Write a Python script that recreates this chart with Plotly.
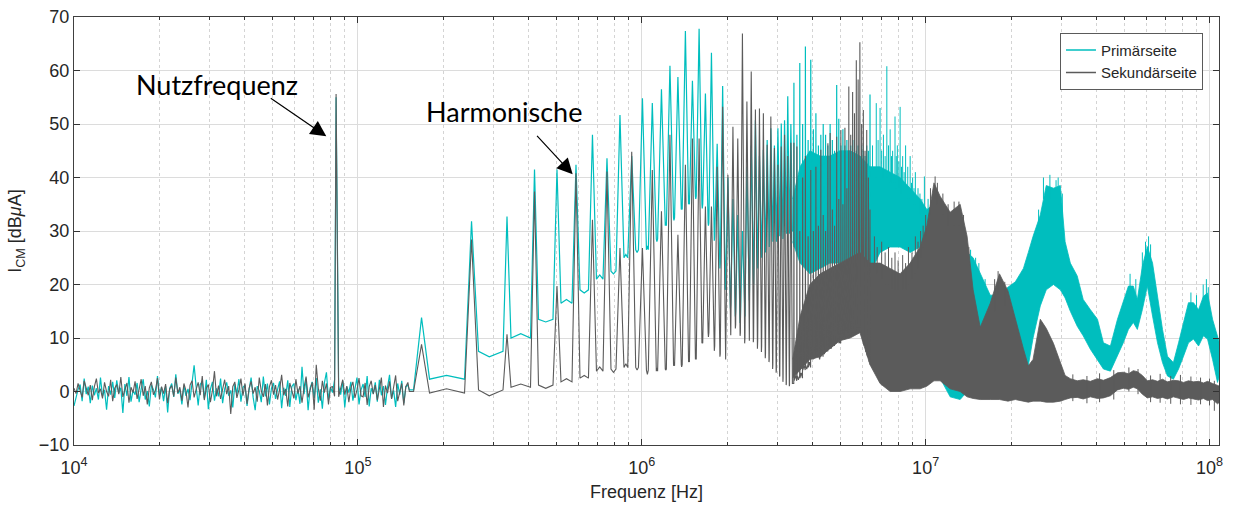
import numpy as np
import plotly.graph_objects as go

# ---------------- data ----------------
# broadband noise floor below 150 kHz (dBuA), sampled on a log frequency grid
noise_start_hz = 1.0e4
noise_stop_hz = 1.5e5
noise_gray = [
    0.6, -0.4, 1.5, 0.2, -1.1, 2.0, 0.8, -0.7, 1.2, -1.6, 0.9, 2.4, -0.3, 0.5, -1.3,
    1.7, 0.0, -0.9, 2.2, -1.8, 0.6, 1.3, -0.5, 2.7, -1.0, 0.3, 1.6, -2.1, 0.8, -0.2,
    1.9, -1.4, 0.4, 2.3, -0.8, 1.0, -2.4, 0.7, 1.8, -0.6, 0.2, 2.5, -1.5, 0.9, -0.4,
    1.4, -2.2, 0.5, 1.1, -0.9, 2.6, -0.3, 0.8, -1.7, 1.5, 0.1, -3.0, 1.2, 2.0, -1.1,
    0.4, 1.7, -0.7, 2.9, -1.6, 0.6, 1.3, -2.0, 0.2, 3.8, -0.9, 1.1, -1.4, 0.7, 2.2,
    -0.5, 1.0, -4.2, 0.9, 1.8, -1.2, 0.3, 2.4, -0.8, 1.5, -2.3, 0.6, 1.9, -0.4, 0.8,
    -1.9, 2.6, 0.1, -1.0, 1.4, -2.6, 0.9, 2.1, -0.6, 1.2, -1.5, 0.4, 3.1, -0.7, 0.5,
    -2.8, 1.6, 0.2, -1.3, 2.3, -0.4, 1.0, -2.1, 0.7, 2.8, -1.1, 0.3, 1.7, -3.4, 5.0,
    0.6, -1.7, 2.0, -0.2, 1.5, -2.4, 0.8, 0.9, -0.9, 1.3, -1.0, 0.4, 2.2, -0.6, 1.0,
    -2.0, 0.7, 1.8, -1.2, 0.3, 2.5, -0.8, -1.0, 1.6, -2.5, 0.9, 2.0, -0.5, 1.2, -1.6,
    0.4, 2.6, -2.9, 1.1, -0.3, 1.9, -1.4, 0.6, 3.0, -1.8, 0.2, 1.5, -2.6, 0.9, 1.7,
]
noise_cyan = [
    -2.7, -1.2, 0.4, 1.3, -1.8, 2.4, -0.5, 0.9, -2.2, 1.1, -0.7, 0.6, -1.5, 2.6, -0.9,
    0.3, -3.4, 1.0, -0.6, 1.8, -1.2, 2.1, -0.3, 0.7, -4.0, 1.4, -0.8, 2.7, -1.9, 0.2,
    -0.6, 1.6, -2.0, 0.5, 2.3, -1.5, 0.1, -2.8, 1.2, 0.4, -1.1, 2.9, -0.7, 0.8, -1.8,
    1.0, -3.9, 0.6, 1.5, -1.0, 3.2, -0.4, 0.3, -2.4, 1.1, -0.8, 0.5, -1.6, 2.0, 4.9,
    0.9, -2.6, 1.3, 1.9, -1.3, 2.2, -3.3, 0.4, 1.8, -1.7, 0.6, -0.9, 2.4, -2.2, 0.5,
    1.7, -0.8, 0.2, -3.0, 1.4, -0.5, 2.3, -1.9, 0.8, 1.2, -2.7, 0.3, 2.6, -1.1, -3.5,
    1.0, 0.1, -2.0, 2.8, -0.9, 1.5, -2.4, 0.6, 1.6, -1.4, 0.4, 1.9, -3.1, 0.7, -0.8,
    2.1, -2.9, 0.9, 1.5, -1.6, 0.5, -2.3, 4.6, -0.5, 2.4, -3.5, 0.7, 1.8, -1.2, 2.5,
    -2.1, 0.4, -3.2, 1.6, 3.6, -1.5, 0.8, -0.2, 2.2, -2.6, 1.0, -0.6, 2.0, -3.0, 0.9,
    -0.2, 1.8, -1.7, 0.5, 2.6, -2.4, 0.3, 1.4, -1.0, 2.9, -2.8, 0.6, -0.4, 1.7, -1.9,
    2.2, -0.7, 1.0, -2.5, 0.8, 3.1, -1.3, 0.2, -2.9, 1.5, -0.6, 2.0, -2.2, 0.9, 1.2,
]

# fundamental ("Nutzfrequenz") and its harmonics, kHz
harm_khz = [83.8, 167.6, 251.4, 335.2, 419.0, 502.8, 586.6, 670.4, 754.2, 838.0,
            921.8, 1005.6, 1089.4, 1173.2, 1257.0, 1340.8, 1424.6, 1508.4, 1592.2, 1676.0,
            1759.8, 1843.6, 1927.4, 2011.2, 2095.0, 2178.8, 2262.6, 2346.4, 2430.2, 2514.0,
            2597.8, 2681.6, 2765.4, 2849.2, 2933.0, 3016.8, 3100.6, 3184.4, 3268.2, 3352.0,
            3435.8, 3519.6, 3603.4, 3687.2, 3771.0, 3854.8, 3938.6, 4022.4, 4106.2, 4190.0,
            4273.8, 4357.6, 4441.4, 4525.2, 4609.0, 4692.8, 4776.6, 4860.4, 4944.2, 5028.0,
            5111.8, 5195.6, 5279.4, 5363.2, 5447.0, 5530.8, 5614.6, 5698.4, 5782.2, 5866.0,
            5949.8, 6033.6, 6117.4, 6201.2, 6285.0, 6368.8]
peak_cyan = [55.0, 13.8, 31.8, 32.7, 41.5, 41.5, 42.4, 48.0, 43.6, 51.7,
             44.0, 54.8, 53.9, 56.5, 60.9, 58.8, 67.4, 58.1, 67.8, 55.7,
             63.3, 46.3, 57.1, 40.0, 36.0, 33.0, 30.0, 42.0, 46.0, 50.7,
             44.0, 45.2, 47.0, 49.2, 46.0, 49.2, 50.1, 50.7, 55.2, 50.0,
             57.7, 48.0, 61.4, 50.0, 64.5, 47.0, 62.0, 49.0, 52.0, 46.0,
             48.0, 50.0, 48.0, 46.0, 50.0, 47.0, 45.0, 57.3, 51.0, 46.0,
             49.0, 46.0, 47.0, 45.0, 46.0, 47.0, 47.0, 45.0, 46.0, 44.0,
             46.0, 45.0, 44.0, 46.0, 45.0, 55.5]
peak_gray = [55.6, 8.8, 28.4, 10.7, 37.4, 19.7, 40.8, 32.1, 41.1, 26.8,
             44.8, 26.8, 41.4, 33.7, 48.0, 29.3, 42.4, 47.3, 47.3, 34.6,
             34.6, 42.0, 53.2, 40.5, 49.5, 47.3, 66.9, 54.2, 59.8, 52.7,
             52.9, 52.0, 46.1, 51.4, 45.5, 42.4, 45.8, 48.0, 44.0, 46.5,
             46.5, 45.8, 30.0, 40.0, 44.0, 29.0, 41.4, 30.0, 42.0, 31.0,
             45.2, 33.0, 30.0, 46.4, 48.3, 34.0, 31.0, 47.6, 36.0, 48.9,
             35.0, 49.3, 38.0, 57.0, 48.0, 56.0, 52.0, 61.9, 58.3, 65.3,
             50.0, 52.6, 45.0, 48.9, 40.0, 34.0]
# floor level after each harmonic, and the level midway to the next one
floor_cyan = [0.3, 2.3, 7.5, 10.0, 13.5, 16.5, 19.0, 21.0, 22.5, 25.0,
              26.5, 26.5, 28.5, 31.0, 32.5, 34.0, 35.0, 36.5, 35.0, 31.5,
              29.0, 24.0, 20.0, 16.5, 15.0, 13.5, 14.0, 17.0, 20.0, 23.0,
              25.0, 26.0, 27.0, 28.0, 28.0, 29.0, 29.0, 29.5, 30.0, 30.0,
              27.0, 28.0, 27.5, 28.0, 28.5, 28.0, 29.0, 28.5, 29.0, 28.0,
              28.5, 29.0, 28.0, 28.5, 29.0, 28.0, 28.5, 29.0, 28.0, 28.5,
              28.0, 27.5, 28.0, 27.0, 27.5, 27.0, 26.5, 27.0, 26.0, 26.5,
              25.0, 25.5, 24.5, 24.0, 23.5, 23.0]
mid_cyan = [0.3, 3.0, 6.5, 10.8, 13.0, 17.2, 18.4, 21.8, 22.0, 25.6,
            26.0, 27.2, 28.0, 31.6, 32.0, 34.6, 35.4, 36.0, 34.2, 31.0,
            28.2, 23.0, 19.0, 15.5, 14.0, 12.8, 15.0, 18.0, 21.0, 24.0,
            25.5, 26.5, 27.5, 28.5, 28.0, 29.5, 28.5, 30.0, 29.5, 30.0,
            27.5, 27.5, 28.0, 28.5, 28.0, 28.5, 28.5, 29.0, 28.5, 28.5,
            29.0, 28.5, 28.5, 29.0, 28.5, 28.5, 29.0, 28.5, 28.5, 28.0,
            27.5, 28.0, 27.5, 27.5, 27.0, 27.0, 27.0, 26.5, 26.5, 26.0,
            25.5, 25.0, 24.0, 24.0, 23.0, 23.0]
floor_gray = [0.0, -0.3, 0.3, 0.8, 1.2, 1.8, 2.5, 3.8, 4.2, 4.5,
              4.5, 4.0, 3.8, 4.2, 4.8, 5.0, 5.5, 6.0, 9.0, 11.0,
              8.5, 7.0, 6.0, 10.5, 12.5, 11.0, 10.0, 9.5, 10.0, 9.5,
              8.5, 7.0, 6.0, 5.0, 4.0, 3.0, 2.5, 1.5, 1.2, 1.5,
              2.0, 3.0, 2.5, 4.0, 5.0, 4.5, 6.0, 7.0, 6.5, 7.0,
              6.5, 8.0, 7.5, 8.0, 9.0, 8.5, 9.5, 10.0, 9.0, 10.0,
              10.5, 10.0, 11.0, 10.5, 11.0, 12.0, 11.0, 12.0, 13.0, 12.0,
              10.0, 9.0, 8.0, 7.0, 6.0, 5.0]
mid_gray = [0.0, 0.5, -0.8, 1.4, 0.6, 2.4, 3.0, 4.6, 3.6, 5.2,
            4.0, 3.2, 4.4, 4.0, 5.4, 4.6, 6.2, 7.5, 10.0, 10.2,
            7.6, 6.5, 8.0, 11.5, 11.8, 10.4, 9.0, 10.2, 9.2, 8.0,
            7.4, 6.2, 5.5, 4.2, 3.5, 2.8, 1.8, 1.2, 1.0, 1.5,
            3.0, 2.2, 3.5, 4.8, 4.2, 5.5, 6.6, 6.2, 7.4, 6.0,
            7.6, 7.0, 8.5, 8.4, 8.0, 9.6, 9.0, 10.6, 9.4, 10.8,
            9.8, 11.2, 10.4, 11.6, 11.8, 11.0, 12.4, 12.6, 12.0, 11.0,
            9.5, 8.6, 7.4, 6.5, 5.5, 5.0]

# dense spectrum above ~3.4 MHz: lower / upper envelope of each trace
band_mhz = [3.40, 3.61, 3.91, 4.25, 4.60, 4.99, 5.42, 5.87, 6.37, 6.91,
            7.50, 8.13, 8.82, 9.56, 10.1, 10.7, 11.25, 12.2, 13.23, 14.0,
            14.7, 15.57, 16.89, 18.2, 19.5, 20.7, 22.1, 23.0, 23.9, 25.35,
            26.6, 28.2, 29.82, 31.0, 32.34, 34.2, 35.9, 38.05, 40.3, 42.3,
            44.76, 47.4, 49.7, 51.8, 53.9, 55.7, 58.0, 60.4, 63.0, 65.6,
            68.3, 71.1, 74.6, 77.8, 81.0, 84.3, 87.8, 91.5, 95.2, 98.4,
            102.5, 106.7, 108.5]
band_cyan_lo = [28, 24, 22, 23, 24, 24, 25, 25, 22, 26,
                27, 27, 26, 27, 26, 18, 2.5, -1, -1.5, 0,
                5, 10, 12, 13, 13, 10, 6.5, 4.8, 10, 16,
                19, 20, 19, 17.5, 15, 12.2, 10.4, 7.9, 6, 4.2,
                3.8, 6.6, 9.1, 11.6, 12.9, 11.6, 15.3, 19.7, 14.1, 9.1,
                5.4, 2.9, 2.3, 4.2, 6.6, 9.1, 9.8, 8.5, 10.4, 9.8,
                6, 1.7, 3]
band_cyan_hi = [36, 42, 45, 44, 44, 45, 45, 44, 42, 42,
                41, 40, 38, 36, 34, 35, 33, 31, 28, 26,
                25, 22, 18, 18, 19.5, 20.5, 23, 26, 29, 33,
                38.5, 38, 38.5, 28, 24, 21.6, 17.2, 15.3, 13.5, 9.1,
                8.5, 13.5, 16.6, 19.7, 19.7, 17.2, 23.4, 27.1, 24, 17.8,
                11.6, 6.6, 5.4, 9.1, 12.9, 16.6, 16.6, 15.3, 17.8, 18.4,
                13.5, 10.4, 9]
band_gray_lo = [2.5, 4, 6, 6.5, 8, 9.5, 10, 11, 5, 1.5,
                0, 0, 0.5, 0.5, 1, 2, 2, 0.5, 0, -1,
                -1.3, -1.5, -1.5, -1.5, -1.8, -1.5, -1.8, -2, -1.8, -1.8,
                -2, -2, -1.8, -1.5, -1.2, -1.1, -1.4, -1.0, -1.3, -1.2,
                -0.8, 0.3, 0.6, 0.4, 0.8, 0.5, -0.5, -1.2, -1.0, -1.3,
                -1.1, -1.4, -1.0, -1.3, -1.5, -1.2, -1.4, -1.6, -1.3, -1.7,
                -1.5, -2.3, -2.0]
band_gray_hi = [6, 14, 20, 22, 23, 24, 25, 26, 24, 24,
                23, 22, 24, 27, 31, 39, 36.5, 33.5, 35, 29,
                19, 12, 16.5, 22, 18.8, 13.5, 8, 4.8, 6, 13.5,
                11.8, 9.0, 5.5, 3.0, 2.4, 2.0, 2.2, 1.9, 2.4, 2.1,
                2.6, 3.5, 3.6, 3.3, 3.9, 3.7, 3.0, 2.0, 2.2, 1.9,
                2.3, 1.8, 2.1, 2.0, 1.7, 2.0, 1.8, 1.9, 1.6, 1.9,
                1.5, 1.2, 1.0]

# single lines sticking out of the dense envelopes (MHz, top, foot)
spk_cyan_mhz = [6.50, 6.70, 6.80, 6.91, 7.00, 7.10, 7.20, 7.30, 7.40, 7.50,
                7.58, 7.65, 7.80, 7.88, 7.95, 8.05, 8.13, 8.22, 8.30, 8.40,
                8.50, 8.65, 8.82, 8.92, 9.00, 9.10, 9.20, 9.40, 9.55, 9.70,
                9.90, 10.2, 14.4, 15.0, 15.4, 16.2, 25.0, 26.0, 27.4, 28.8,
                29.3, 30.3, 52.5, 55.0, 58.0, 59.5, 61.0, 62.0, 86.0, 90.0,
                95.0, 97.5, 99.0]
spk_cyan_top = [46, 53.9, 47, 53, 45, 48, 44, 60.8, 46, 49,
                44, 45, 51.4, 44, 46, 43, 53.2, 42, 44, 41,
                46, 42, 44, 39, 40, 38, 41, 38, 37, 36,
                40.2, 36, 26.5, 25, 24, 21, 34, 40, 40.5, 39.5,
                40, 37, 22, 21, 26, 28, 29, 27.5, 18.5, 18,
                20, 21, 19.5]
spk_cyan_foot = [40, 40, 40, 40, 40, 40, 40, 40, 39, 39,
                 39, 39, 39, 38, 38, 38, 38, 37, 37, 37,
                 37, 36, 36, 35, 35, 35, 35, 34, 33, 33,
                 33, 32, 22, 20, 19, 17, 30, 36, 36, 35,
                 35, 30, 18, 16, 22, 24, 25, 23, 15, 14,
                 16, 17, 16]
spk_gray_mhz = [6.60, 6.75, 7.00, 7.20, 7.40, 7.60, 7.80, 8.00, 8.30, 8.50,
                8.70, 8.95, 9.20, 9.40, 9.60, 9.80, 10.0, 10.4, 10.8, 11.0,
                11.5, 12.0, 12.6, 13.1, 13.6, 14.2, 17.5, 18.0, 19.0, 33.0,
                37.0, 41.0, 46.0, 52.0, 56.0, 62.0, 67.0, 73.0, 79.0, 86.0,
                93.0, 100.0, 104.0]
spk_gray_top = [29, 27, 28, 26, 27, 25, 26, 24.5, 25.5, 24,
                27, 26, 29, 28, 30, 31, 33, 38, 40.2, 39,
                37, 35, 35.5, 35.5, 33, 27, 21, 22.5, 20.5, 3.2,
                2.9, 3.4, 4.0, 4.5, 4.2, 3.0, 3.3, 2.9, 3.1, 2.8,
                2.6, 2.4, 2.0]
spk_gray_foot = [23, 22, 21, 20, 20, 19, 19, 19, 19, 19,
                 20, 21, 22, 23, 25, 27, 29, 33, 36, 35,
                 33, 31, 31, 31, 28, 22, 15, 18, 16, -1.8,
                 -2.2, -2.0, -1.5, 0, -0.5, -2.0, -2.1, -2.3, -2.4, -2.5,
                 -2.4, -2.6, -3.6]

series_names = ["Primärseite", "Sekundärseite"]
CYAN = "#00BEBE"
GRAY = "#5B5B5B"

for arr in (band_cyan_lo, band_cyan_hi, band_gray_lo, band_gray_hi):
    assert len(arr) == len(band_mhz)
for arr in (peak_cyan, peak_gray, floor_cyan, mid_cyan, floor_gray, mid_gray):
    assert len(arr) == len(harm_khz)
assert len(noise_cyan) == len(noise_gray)
assert len(spk_cyan_top) == len(spk_cyan_mhz) == len(spk_cyan_foot)
assert len(spk_gray_top) == len(spk_gray_mhz) == len(spk_gray_foot)

# ---------------- building the traces ----------------
PX_PER_DEC = 283.9  # on-screen pixels per frequency decade (style only)


def px_ratio(px):
    return 10 ** (px / PX_PER_DEC)


noise_f = np.geomspace(noise_start_hz, noise_stop_hz, len(noise_gray))


def series_line(noise, peaks, floors, mids):
    f1 = harm_khz[0] * 1e3
    noise = np.asarray(noise, dtype=float)
    keep = np.abs(np.log10(noise_f / f1)) * PX_PER_DEC > 1.3
    pts = sorted(list(zip(noise_f[keep], noise[keep])) + [(f1, peaks[0])])
    xs = [p[0] for p in pts]
    ys = [p[1] for p in pts]
    xs.append(noise_stop_hz * px_ratio(1.5))
    ys.append(floors[0])
    for k in range(1, len(harm_khz)):
        n = k + 1
        f = harm_khz[k] * 1e3
        if n == 2:
            hb = 8.0
        elif n == 3:
            hb = 7.0
        elif n <= 40:
            hb = min(4.0, 0.45 * PX_PER_DEC * np.log10((n + 1) / n))
        else:
            hb = 0.15
        r = px_ratio(hb)
        if k >= 2:
            xs.append(np.sqrt(harm_khz[k - 1] * harm_khz[k]) * 1e3)
            ys.append(mids[k - 1])
        xs += [f / r, f, f * r]
        ys += [floors[k - 1], peaks[k], floors[k]]
    return xs, ys


def band(fm, lo, hi, color):
    x = [f * 1e6 for f in fm] + [f * 1e6 for f in fm[::-1]]
    y = list(hi) + list(lo[::-1])
    return go.Scatter(x=x, y=y, mode="lines", fill="toself", fillcolor=color,
                      line=dict(color=color, width=0.8), showlegend=False,
                      hoverinfo="skip")


def spikes(fm, top, foot, color):
    xs, ys = [], []
    for f, t, b in zip(fm, top, foot):
        xs += [f * 1e6, f * 1e6, None]
        ys += [b, t, None]
    return go.Scatter(x=xs, y=ys, mode="lines", line=dict(color=color, width=1.0),
                      showlegend=False, hoverinfo="skip", connectgaps=False)


fig = go.Figure()

cx, cy = series_line(noise_cyan, peak_cyan, floor_cyan, mid_cyan)
gx, gy = series_line(noise_gray, peak_gray, floor_gray, mid_gray)

fig.add_trace(band(band_mhz, band_cyan_lo, band_cyan_hi, CYAN))
fig.add_trace(go.Scatter(x=cx, y=cy, mode="lines", line=dict(color=CYAN, width=1.2),
                         showlegend=False, hoverinfo="skip"))
fig.add_trace(spikes(spk_cyan_mhz, spk_cyan_top, spk_cyan_foot, CYAN))

fig.add_trace(band(band_mhz, band_gray_lo, band_gray_hi, GRAY))
fig.add_trace(go.Scatter(x=gx, y=gy, mode="lines", line=dict(color=GRAY, width=1.1),
                         showlegend=False, hoverinfo="skip"))
fig.add_trace(spikes(spk_gray_mhz, spk_gray_top, spk_gray_foot, GRAY))

# legend entries
fig.add_trace(go.Scatter(x=[None], y=[None], mode="lines", name=series_names[0],
                         line=dict(color=CYAN, width=1.5)))
fig.add_trace(go.Scatter(x=[None], y=[None], mode="lines", name=series_names[1],
                         line=dict(color=GRAY, width=1.5)))

major = [1e4, 1e5, 1e6, 1e7, 1e8]
minor = [m * d for d in [1e4, 1e5, 1e6, 1e7] for m in range(2, 10)]
TICKFONT = "Liberation Sans, Arial, sans-serif"

fig.update_layout(
    width=1233, height=509,
    margin=dict(l=74, r=14, t=17, b=64),
    paper_bgcolor="white", plot_bgcolor="white",
    font=dict(family=TICKFONT, size=17, color="#262626"),
    legend=dict(x=0.986, y=0.963, xanchor="right", yanchor="top",
                bordercolor="#5a5a5a", borderwidth=1, bgcolor="white",
                font=dict(size=15, family=TICKFONT, color="#262626"),
                tracegroupgap=0, itemwidth=30),
    xaxis=dict(
        type="log", range=[4, np.log10(1.08e8)], automargin=False,
        tickvals=major,
        ticktext=["10<sup>4</sup>", "10<sup>5</sup>", "10<sup>6</sup>",
                  "10<sup>7</sup>", "10<sup>8</sup>"],
        ticks="inside", ticklen=6, tickcolor="#333333",
        showline=True, linecolor="#404040", linewidth=1, mirror="allticks",
        showgrid=True, gridcolor="#dcdcdc", gridwidth=1, zeroline=False,
        tickfont=dict(size=18), ticklabelstandoff=6,
        minor=dict(tickvals=minor, ticks="inside", ticklen=3, tickcolor="#333333",
                   showgrid=True, gridcolor="#d4d4d4", griddash="dot", gridwidth=1),
        title=dict(text="Frequenz [Hz]", standoff=8, font=dict(size=18)),
    ),
    yaxis=dict(
        range=[-10, 70], dtick=10, automargin=False,
        ticks="inside", ticklen=6, tickcolor="#333333",
        showline=True, linecolor="#404040", linewidth=1, mirror="allticks",
        showgrid=True, gridcolor="#dcdcdc", gridwidth=1, zeroline=False,
        tickfont=dict(size=18),
        title=dict(text="I<sub>CM</sub> [dB<i>μ</i>A]", standoff=12, font=dict(size=18)),
    ),
)

ANN_FONT = dict(family="Lato, Open Sans, sans-serif", size=27, color="black")
fig.add_annotation(x=np.log10(3.2e4), y=57.4, text="Nutzfrequenz", showarrow=False,
                   font=ANN_FONT, xref="x", yref="y")
fig.add_annotation(x=np.log10(3.26e5), y=52.3, text="Harmonische", showarrow=False,
                   font=ANN_FONT, xref="x", yref="y")
fig.add_annotation(x=np.log10(7.74e4), y=47.7, ax=-57, ay=-39, text="", showarrow=True,
                   arrowhead=2, arrowsize=2.6, arrowwidth=1.2, arrowcolor="black",
                   xref="x", yref="y", axref="pixel", ayref="pixel", standoff=0)
fig.add_annotation(x=np.log10(5.71e5), y=40.6, ax=-37, ay=-40, text="", showarrow=True,
                   arrowhead=2, arrowsize=2.6, arrowwidth=1.2, arrowcolor="black",
                   xref="x", yref="y", axref="pixel", ayref="pixel", standoff=0)

fig.write_html(
    "out.html",
    config={"displayModeBar": False},
    post_script="document.body.style.margin='0px';document.body.style.overflow='hidden';",
)
